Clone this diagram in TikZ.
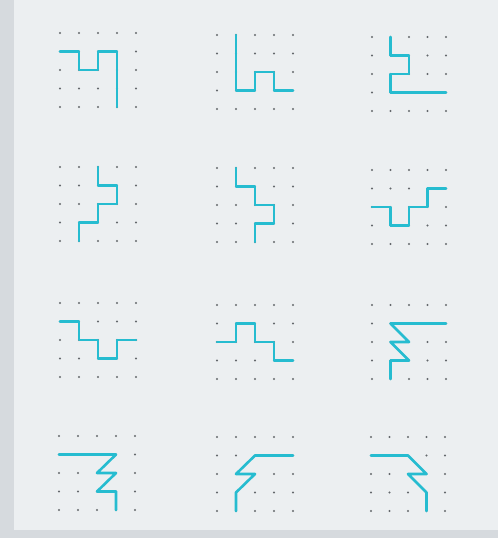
\documentclass[tikz,border=0pt]{standalone}
\definecolor{bgedge}{RGB}{214,218,222}
\definecolor{paper}{RGB}{236,239,241}
\definecolor{ink}{RGB}{38,188,208}
\definecolor{dotc}{RGB}{100,104,108}
\tikzset{
  griddot/.style={fill=dotc,draw=none},
  pen/.style={draw=ink,line width=2.6pt,line join=round,line cap=round},
}
% #1 = x of first dot, #2 = y of first dot, #3 = horizontal step, #4 = path
\newcommand{\dotpanel}[4]{%
  \begin{scope}[shift={(#1,#2)},x=#3pt,y=-18.5pt]
    \foreach \i in {0,...,4}{\foreach \j in {0,...,4}{\fill[griddot] (\i,\j) circle (1.2pt);}}
    \draw[pen] #4;
  \end{scope}}
\begin{document}
\begin{tikzpicture}[x=1pt,y=-1pt]
  \useasboundingbox (0,0) rectangle (498,538);
  \fill[bgedge] (0,0) rectangle (498,538);
  \fill[paper] (14,0) rectangle (498,530);
  % row 1
  \dotpanel{60}{33}{19}{(0,1)--(1,1)--(1,2)--(2,2)--(2,1)--(3,1)--(3,4)}
  \dotpanel{217}{35}{19}{(1,0)--(1,3)--(2,3)--(2,2)--(3,2)--(3,3)--(4,3)}
  \dotpanel{372}{37}{18.5}{(1,0)--(1,1)--(2,1)--(2,2)--(1,2)--(1,3)--(4,3)}
  % row 2
  \dotpanel{60}{167}{19}{(2,0)--(2,1)--(3,1)--(3,2)--(2,2)--(2,3)--(1,3)--(1,4)}
  \dotpanel{217}{168}{19}{(1,0)--(1,1)--(2,1)--(2,2)--(3,2)--(3,3)--(2,3)--(2,4)}
  \dotpanel{372}{170}{18.5}{(0,2)--(1,2)--(1,3)--(2,3)--(2,2)--(3,2)--(3,1)--(4,1)}
  % row 3
  \dotpanel{60}{303}{19}{(0,1)--(1,1)--(1,2)--(2,2)--(2,3)--(3,3)--(3,2)--(4,2)}
  \dotpanel{217}{305}{19}{(0,2)--(1,2)--(1,1)--(2,1)--(2,2)--(3,2)--(3,3)--(4,3)}
  \dotpanel{372}{305}{18.5}{(4,1)--(1,1)--(2,2)--(1,2)--(2,3)--(1,3)--(1,4)}
  % row 4
  \dotpanel{59}{436}{19}{(0,1)--(3,1)--(2,2)--(3,2)--(2,3)--(3,3)--(3,4)}
  \dotpanel{217}{437}{19}{(4,1)--(2,1)--(1,2)--(2,2)--(1,3)--(1,4)}
  \dotpanel{371}{437}{18.5}{(0,1)--(2,1)--(3,2)--(2,2)--(3,3)--(3,4)}
\end{tikzpicture}
\end{document}
